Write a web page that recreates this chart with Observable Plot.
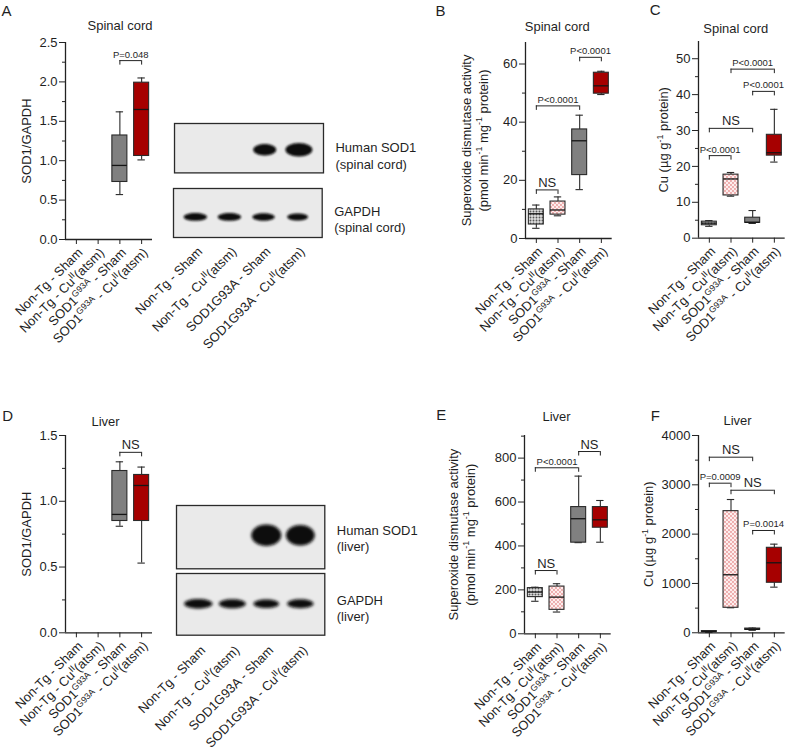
<!DOCTYPE html>
<html><head><meta charset="utf-8">
<script src="https://cdn.jsdelivr.net/npm/d3@7"></script>
<script src="https://cdn.jsdelivr.net/npm/@observablehq/plot@0.6"></script>
<style>
html,body{margin:0;padding:0;background:#fff;}
#fig{position:relative;width:787px;height:752px;overflow:hidden;background:#fff;}
#fig svg{position:absolute;overflow:visible;}
</style></head><body>
<div id="fig"></div>
<svg width="0" height="0" style="position:absolute;left:0;top:0">
<defs>
 <pattern id="patGrey" width="3" height="3" patternUnits="userSpaceOnUse">
   <rect width="3" height="3" fill="#dedede"/><circle cx="1.5" cy="1.5" r="0.95" fill="#555"/>
 </pattern>
 <pattern id="patPink" width="4" height="4" patternUnits="userSpaceOnUse">
   <rect width="4" height="4" fill="#fdeeee"/><circle cx="1" cy="1" r="0.65" fill="#d43a3a"/><circle cx="3" cy="3" r="0.65" fill="#d43a3a"/>
 </pattern>
 <filter id="blurS" x="-20%" y="-150%" width="140%" height="400%"><feGaussianBlur stdDeviation="1.2"/></filter>
 <filter id="blurL" x="-20%" y="-150%" width="140%" height="400%"><feGaussianBlur stdDeviation="1.8"/></filter>
</defs></svg>
<script>
// ---------------- DATA ----------------
const groups = [0, 1, 2, 3];
const groupLabels = ["Non-Tg - Sham", "Non-Tg - Cu^{II}(atsm)", "SOD1^{G93A} - Sham", "SOD1^{G93A} - Cu^{II}(atsm)"];
const laneLabels = ["Non-Tg - Sham", "Non-Tg - Cu^{II}(atsm)", "SOD1G93A - Sham", "SOD1G93A - Cu^{II}(atsm)"];

// box stats per group: [min, q1, median, q3, max]
const sod1SpinalStats = [null, null, [0.57, 0.73, 0.94, 1.32, 1.62], [1.01, 1.06, 1.65, 1.99, 2.05]];
const sodActSpinalStats = [[3.5, 4.8, 8.5, 10.0, 11.5], [7.8, 8.2, 9.8, 12.7, 14.3], [16.8, 21.8, 33.6, 37.5, 42.4], [49.5, 49.8, 52.5, 57.0, 57.5]];
const cuSpinalStats = [[3.3, 3.6, 4.2, 4.6, 4.9], [11.7, 11.9, 16.5, 17.7, 18.3], [4.1, 4.3, 4.4, 5.7, 7.7], [21.2, 23.0, 23.8, 28.8, 35.9]];
const sod1LiverStats = [null, null, [0.81, 0.85, 0.90, 1.23, 1.30], [0.53, 0.85, 1.12, 1.20, 1.26]];
const sodActLiverStats = [[148, 167, 190, 208, 212], [99, 109, 167, 215, 228], [415, 415, 524, 577, 718], [417, 483, 519, 577, 607]];
const cuLiverStats = [[5, 15, 25, 35, 45], [507, 507, 1176, 2466, 2702], [50, 60, 70, 85, 95], [925, 1014, 1419, 1723, 1797]];

// comparisons: [groupA, groupB, bracket level, label]
const sod1SpinalBrackets = [[2, 3, 2.27, "P=0.048"]];
const sodActSpinalBrackets = [[0, 1, 16.7, "NS"], [0, 2, 45.6, "P<0.0001"], [2, 3, 62.3, "P<0.0001"]];
const cuSpinalBrackets = [[0, 1, 23.0, "P<0.0001"], [0, 2, 30.6, "NS"], [2, 3, 40.9, "P<0.0001"], [1, 3, 47.1, "P<0.0001"]];
const sod1LiverBrackets = [[2, 3, 1.372, "NS"]];
const sodActLiverBrackets = [[0, 1, 288, "NS"], [0, 2, 756, "P<0.0001"], [2, 3, 830, "NS"]];
const cuLiverBrackets = [[0, 2, 3560, "NS"], [0, 1, 3033, "P=0.0009"], [1, 3, 2890, "NS"], [2, 3, 2074, "P=0.0014"]];

// axis ticks
const sod1SpinalTicks = [0, 0.5, 1.0, 1.5, 2.0, 2.5];
const sod1SpinalMinor = [0.25, 0.75, 1.25, 1.75, 2.25];
const sodActSpinalTicks = [0, 20, 40, 60];
const sodActSpinalMinor = [10, 30, 50];
const cuSpinalTicks = [0, 10, 20, 30, 40, 50];
const cuSpinalMinor = [5, 15, 25, 35, 45];
const sod1LiverTicks = [0, 0.5, 1.0, 1.5];
const sod1LiverMinor = [0.25, 0.75, 1.25];
const sodActLiverTicks = [0, 200, 400, 600, 800];
const sodActLiverMinor = [100, 300, 500, 700, 900];
const cuLiverTicks = [0, 1000, 2000, 3000, 4000];
const cuLiverMinor = [500, 1500, 2500, 3500];

// western blot band intensities (relative) per lane
const blotSod1Spinal = [0, 0, 0.85, 1.0];
const blotGapdhSpinal = [0.9, 0.9, 0.86, 0.8];
const blotSod1Liver = [0, 0, 1.0, 0.96];
const blotGapdhLiver = [0.95, 0.9, 0.86, 0.88];

// ---------------- RENDER ----------------
const FONT = '"Liberation Sans", Arial, Helvetica, sans-serif';
const NS = "http://www.w3.org/2000/svg";
const fig = document.getElementById("fig");
const boxFills = ["url(#patGrey)", "url(#patPink)", "#808080", "#a60000"];
const INK = "#1f1f1f";

function dims(f, p) {
  return {width: f.x1 - f.x0 + p.l + p.r, height: f.y1 - f.y0 + p.t + p.b,
    marginLeft: p.l, marginRight: p.r, marginTop: p.t, marginBottom: p.b};
}
function supify(svg) {
  svg.querySelectorAll("text, tspan").forEach(el => {
    if (el.childNodes.length !== 1 || el.firstChild.nodeType !== 3) return;
    const s = el.textContent;
    if (!s.includes("^{")) return;
    const fs = parseFloat(getComputedStyle(el).fontSize) || 13;
    el.textContent = "";
    const re = /\^\{([^}]*)\}/g;
    let last = 0, m, shifted = false;
    const add = (txt, sup) => {
      const t = document.createElementNS(NS, "tspan");
      t.textContent = txt;
      if (sup) { t.setAttribute("dy", (-0.4 * fs).toFixed(2)); t.setAttribute("font-size", (0.68 * fs).toFixed(2)); shifted = true; }
      else if (shifted) { t.setAttribute("dy", (0.4 * fs).toFixed(2)); shifted = false; }
      el.appendChild(t);
    };
    while ((m = re.exec(s))) {
      if (m.index > last) add(s.slice(last, m.index), false);
      add(m[1], true);
      last = re.lastIndex;
    }
    if (last < s.length) add(s.slice(last), false);
  });
}
function mount(svg, f, p) {
  svg.style.left = (f.x0 - p.l) + "px";
  svg.style.top = (f.y0 - p.t) + "px";
  svg.style.position = "absolute";
  svg.style.overflow = "visible";
  svg.style.background = "none";
  fig.appendChild(svg);
  supify(svg);
}
const baseStyle = `font-family: ${FONT}; font-size: 13px; color: ${INK}; background: none; overflow: visible;`;

function boxPanel(c) {
  const rows = c.stats.map((s, g) => s && ({g, min: s[0], q1: s[1], med: s[2], q3: s[3], max: s[4]})).filter(Boolean);
  const br = c.brackets.map(([a, b, y, label]) => ({a, b, y, label}));
  const hw = 0.345, cw = 0.17;
  const ln = {stroke: "#2a2a2a", strokeWidth: 1.1};
  const svg = Plot.plot({
    ...dims(c.frame, c.pad),
    style: baseStyle,
    x: {type: "linear", domain: [-0.5, 3.5], label: null, axis: null},
    y: {type: "linear", domain: c.yDomain, label: null, axis: null},
    color: {type: "ordinal", domain: groups, range: boxFills},
    marks: [
      Plot.ruleX(rows, {x: "g", y1: "min", y2: "q1", ...ln}),
      Plot.ruleX(rows, {x: "g", y1: "q3", y2: "max", ...ln}),
      Plot.ruleY(rows, {y: "min", x1: d => d.g - cw, x2: d => d.g + cw, ...ln}),
      Plot.ruleY(rows, {y: "max", x1: d => d.g - cw, x2: d => d.g + cw, ...ln}),
      Plot.rect(rows, {x1: d => d.g - hw, x2: d => d.g + hw, y1: "q1", y2: "q3", fill: "g", ...ln}),
      Plot.ruleY(rows, {y: "med", x1: d => d.g - hw, x2: d => d.g + hw, stroke: "#151515", strokeWidth: 1.3}),
      Plot.ruleY(br, {y: "y", x1: "a", x2: "b", stroke: "#222", strokeWidth: 1}),
      Plot.ruleX(br, {x: "a", y1: "y", y2: "y", insetBottom: -4.5, stroke: "#222", strokeWidth: 1}),
      Plot.ruleX(br, {x: "b", y1: "y", y2: "y", insetBottom: -4.5, stroke: "#222", strokeWidth: 1}),
      Plot.text(br, {x: d => (d.a + d.b) / 2, y: "y", text: "label", dy: -3, lineAnchor: "bottom", textAnchor: "middle",
        fontSize: d => d.label === "NS" ? 13 : 9.5, fill: INK}),
      Plot.axisY({ticks: c.ticks, tickSize: 6, tickPadding: 2, tickFormat: c.fmt, label: null, stroke: "#222", fontSize: 13}),
      Plot.axisY({ticks: c.minor, tickSize: 3, tickFormat: () => "", label: null, stroke: "#222"}),
      Plot.axisX({ticks: groups, tickSize: 5, tickFormat: () => "", label: null, stroke: "#222"}),
      Plot.ruleX([-0.5], {stroke: "#222", strokeWidth: 1.3}),
      Plot.ruleY([c.yDomain[0]], {stroke: "#222", strokeWidth: 1.3}),
      Plot.text(groups, {x: d => d, text: d => groupLabels[d], frameAnchor: "bottom", rotate: -45, textAnchor: "end", lineAnchor: "middle", dx: 4, dy: 11, fontSize: 13, fill: INK}),
      Plot.text([c.title], {text: d => d, frameAnchor: "top", textAnchor: "middle", lineAnchor: "middle", dx: c.titleDx, dy: c.titleDy, fontSize: 13, fill: INK}),
      Plot.text([c.letter], {text: d => d, frameAnchor: "top-left", textAnchor: "start", lineAnchor: "middle", dx: c.letterDx, dy: c.letterDy, fontSize: 15, fill: INK}),
      Plot.text([c.ylabel], {text: d => d, frameAnchor: "left", textAnchor: "middle", lineAnchor: "middle", rotate: -90, dx: c.ylabelDx, lineHeight: 1.28, fontSize: 13, fill: INK})
    ]
  });
  mount(svg, c.frame, c.pad);
}

function ellipseSymbol(aspect) {
  const k = 0.5523;
  return {draw(ctx, size) {
    const rx = Math.sqrt(size / Math.PI), ry = rx / aspect;
    ctx.moveTo(rx, 0);
    ctx.bezierCurveTo(rx, k * ry, k * rx, ry, 0, ry);
    ctx.bezierCurveTo(-k * rx, ry, -rx, k * ry, -rx, 0);
    ctx.bezierCurveTo(-rx, -k * ry, -k * rx, -ry, 0, -ry);
    ctx.bezierCurveTo(k * rx, -ry, rx, -k * ry, rx, 0);
    ctx.closePath();
  }};
}

function blotPanel(c) {
  const marks = [
    Plot.frame({fill: "#eaeaea", stroke: "#2a2a2a", strokeWidth: 1.3}),
    Plot.dot(groups, {x: d => d, y: () => c.yPos, r: d => c.intensity[d], symbol: ellipseSymbol(c.aspect), fill: "#0b0b0b", stroke: "none"}),
    Plot.text([c.label], {text: d => d, frameAnchor: "right", textAnchor: "start", lineAnchor: "middle", dx: 12, dy: c.labelDy, lineHeight: 1.25, fontSize: 13, fill: INK})
  ];
  if (c.lanes) marks.push(Plot.text(groups, {x: d => d, text: d => laneLabels[d], frameAnchor: "bottom", rotate: -45, textAnchor: "end", lineAnchor: "middle", dx: c.laneDx, dy: c.laneDy, fontSize: 13, fill: INK}));
  const svg = Plot.plot({
    ...dims(c.frame, c.pad),
    style: baseStyle,
    x: {type: "linear", domain: [-0.64, 3.72], axis: null, label: null},
    y: {type: "linear", domain: [0, 1], axis: null, label: null},
    r: {type: "linear", domain: [0, 1], range: [0, c.rmax]},
    marks
  });
  d3.select(svg).selectAll('g[aria-label="dot"]').attr("filter", `url(#${c.blur})`);
  mount(svg, c.frame, c.pad);
}

const f1 = d3.format(".1f");
const f0 = d3.format("d");

// A
boxPanel({frame: {x0: 65, x1: 152, y0: 41.7, y1: 238.7}, pad: {l: 65, r: 18, t: 42, b: 135},
  stats: sod1SpinalStats, brackets: sod1SpinalBrackets, yDomain: [0, 2.5], ticks: sod1SpinalTicks, minor: sod1SpinalMinor, fmt: f1,
  title: "Spinal cord", titleDx: 11, titleDy: -16.7, letter: "A", letterDx: -64, letterDy: -31.7,
  ylabel: "SOD1/GAPDH", ylabelDx: -40});
blotPanel({frame: {x0: 174.3, x1: 323.3, y0: 123.3, y1: 172.7}, pad: {l: 2, r: 90, t: 2, b: 2},
  intensity: blotSod1Spinal, aspect: 2.0, rmax: 13.5, yPos: 0.47, blur: "blurS",
  label: "Human SOD1\n(spinal cord)", labelDy: 7});
blotPanel({frame: {x0: 173.3, x1: 322, y0: 188.3, y1: 237.3}, pad: {l: 2, r: 90, t: 2, b: 120},
  intensity: blotGapdhSpinal, aspect: 3.0, rmax: 13, yPos: 0.42, blur: "blurS",
  label: "GAPDH\n(spinal cord)", labelDy: 6, lanes: true, laneDx: 5, laneDy: 12});

// B
boxPanel({frame: {x0: 525, x1: 611.7, y0: 41.7, y1: 237.7}, pad: {l: 125, r: 14, t: 42, b: 135},
  stats: sodActSpinalStats, brackets: sodActSpinalBrackets, yDomain: [0, 67.4], ticks: sodActSpinalTicks, minor: sodActSpinalMinor, fmt: f0,
  title: "Spinal cord", titleDx: -11.6, titleDy: -15.7, letter: "B", letterDx: -90, letterDy: -31.7,
  ylabel: "Superoxide dismutase activity\n(pmol min^{-1} mg^{-1} protein)", ylabelDx: -51.6});

// C
boxPanel({frame: {x0: 697.7, x1: 784.4, y0: 41, y1: 237.7}, pad: {l: 60, r: 2, t: 41, b: 135},
  stats: cuSpinalStats, brackets: cuSpinalBrackets, yDomain: [0, 54.8], ticks: cuSpinalTicks, minor: cuSpinalMinor, fmt: f0,
  title: "Spinal cord", titleDx: -6, titleDy: -13, letter: "C", letterDx: -48.7, letterDy: -31,
  ylabel: "Cu (µg g^{-1} protein)", ylabelDx: -36});

// D
boxPanel({frame: {x0: 65, x1: 152, y0: 435, y1: 632.3}, pad: {l: 65, r: 18, t: 40, b: 118},
  stats: sod1LiverStats, brackets: sod1LiverBrackets, yDomain: [0, 1.5], ticks: sod1LiverTicks, minor: sod1LiverMinor, fmt: f1,
  title: "Liver", titleDx: -3.5, titleDy: -13.3, letter: "D", letterDx: -63.3, letterDy: -19,
  ylabel: "SOD1/GAPDH", ylabelDx: -40});
blotPanel({frame: {x0: 175.7, x1: 324, y0: 505, y1: 568.3}, pad: {l: 2, r: 90, t: 2, b: 2},
  intensity: blotSod1Liver, aspect: 1.4, rmax: 15, yPos: 0.53, blur: "blurL",
  label: "Human SOD1\n(liver)", labelDy: 1});
blotPanel({frame: {x0: 175.7, x1: 324, y0: 573.3, y1: 635}, pad: {l: 2, r: 90, t: 2, b: 115},
  intensity: blotGapdhLiver, aspect: 3.0, rmax: 15, yPos: 0.51, blur: "blurL",
  label: "GAPDH\n(liver)", labelDy: 3.5, lanes: true, laneDx: 5, laneDy: 13});

// E
boxPanel({frame: {x0: 524.3, x1: 611, y0: 435, y1: 633.3}, pad: {l: 125, r: 14, t: 40, b: 118},
  stats: sodActLiverStats, brackets: sodActLiverBrackets, yDomain: [0, 903], ticks: sodActLiverTicks, minor: sodActLiverMinor, fmt: f0,
  title: "Liver", titleDx: -11.3, titleDy: -18.3, letter: "E", letterDx: -88.3, letterDy: -20,
  ylabel: "Superoxide dismutase activity\n(pmol min^{-1} mg^{-1} protein)", ylabelDx: -63.5});

// F
boxPanel({frame: {x0: 697.7, x1: 784.4, y0: 435, y1: 632.3}, pad: {l: 60, r: 2, t: 40, b: 118},
  stats: cuLiverStats, brackets: cuLiverBrackets, yDomain: [0, 4000], ticks: cuLiverTicks, minor: cuLiverMinor, fmt: f0,
  title: "Liver", titleDx: -4.3, titleDy: -15, letter: "F", letterDx: -47.7, letterDy: -19.5,
  ylabel: "Cu (µg g^{-1} protein)", ylabelDx: -51});
</script>
</body></html>
